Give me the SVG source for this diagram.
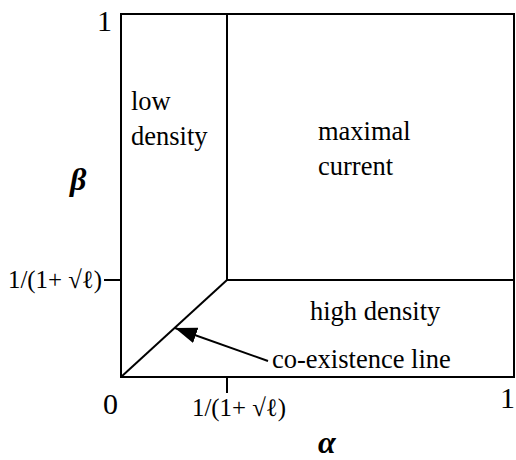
<svg xmlns="http://www.w3.org/2000/svg" width="516" height="460" viewBox="0 0 516 460">
<style>
  .ln { stroke: #000; stroke-width: 2; fill: none; }
  .t { font-family: "Liberation Serif", "Times New Roman", serif; fill: #000; }
  .lbl { font-size: 26.5px; }
  .num { font-size: 30px; }
  .tick { font-size: 25px; }
  .greek { font-size: 32px; font-weight: bold; font-style: italic; }
</style>
<defs>
  <marker id="ah" markerUnits="userSpaceOnUse" markerWidth="26" markerHeight="18" refX="22" refY="8" orient="auto">
    <path d="M0,0 L22,8 L0,16 Z" fill="#000"/>
  </marker>
</defs>
<rect width="516" height="460" fill="#fff"/>
<g id="frame">
  <rect class="ln" x="121" y="14" width="393" height="363"/>
  <line class="ln" x1="104" y1="280" x2="121" y2="280"/>
  <line class="ln" x1="227" y1="377" x2="227" y2="393"/>
</g>
<g id="boundaries">
  <polyline class="ln" points="227,14 227,280 514,280"/>
  <line class="ln" x1="121" y1="377" x2="227" y2="280"/>
</g>
<g id="axis-labels">
  <text class="t num" x="97" y="31">1</text>
  <text class="t num" x="103" y="414">0</text>
  <text class="t num" x="515" y="408" text-anchor="end">1</text>
  <text class="t tick" x="8" y="288" textLength="94" lengthAdjust="spacingAndGlyphs">1/(1+ √ℓ)</text>
  <text class="t tick" x="192" y="416" textLength="94" lengthAdjust="spacingAndGlyphs">1/(1+ √ℓ)</text>
  <text class="t greek" x="70" y="190">β</text>
  <text class="t greek" x="318" y="453">α</text>
</g>
<g id="low-density">
  <text class="t lbl" x="131" y="110">low</text>
  <text class="t lbl" x="131" y="145">density</text>
</g>
<g id="maximal-current">
  <text class="t lbl" x="318" y="140">maximal</text>
  <text class="t lbl" x="318" y="175">current</text>
</g>
<g id="high-density">
  <text class="t lbl" x="310" y="320">high density</text>
</g>
<g id="coexistence-label">
  <text class="t lbl" x="272" y="368">co-existence line</text>
</g>
<g id="connectors">
  <line class="ln" x1="268" y1="361" x2="175" y2="328" marker-end="url(#ah)"/>
</g>
</svg>
